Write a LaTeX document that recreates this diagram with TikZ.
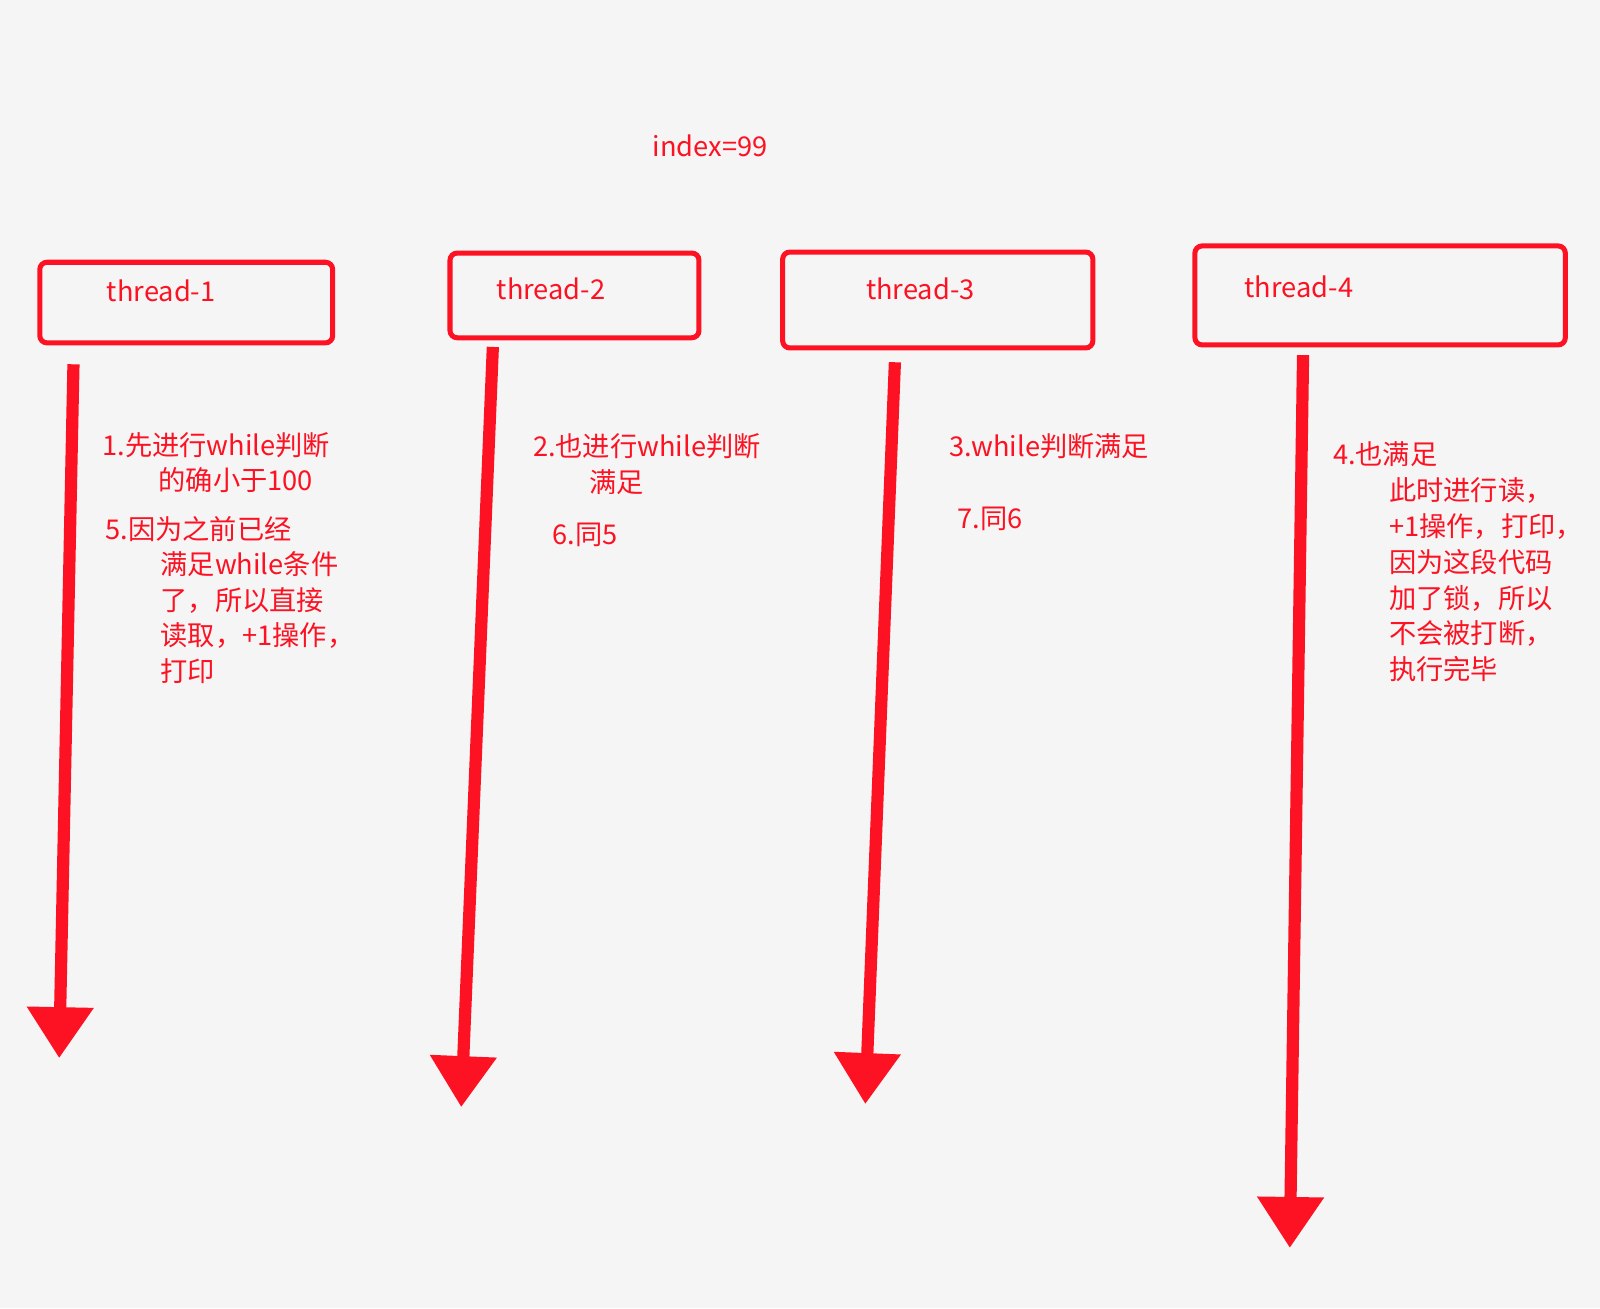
\documentclass[tikz,border=0pt]{standalone}
\usepackage{fontspec}
\setmainfont{Noto Sans CJK SC}
\usetikzlibrary{arrows.meta}
\definecolor{rd}{HTML}{FC1222}
\definecolor{bg}{HTML}{F5F5F5}
\begin{document}
\begin{tikzpicture}[x=0.02cm,y=-0.02cm,
  box/.style={draw=rd,line width=2.8pt,rounded corners=4pt},
  lbl/.style={text=rd,inner sep=0,anchor=west,font=\fontsize{15.2}{17}\selectfont},
  tl/.style={rd,line width=6.8pt,-{Triangle[length=1cm,width=1.25cm]}}]
\fill[bg] (0,0) rectangle (1568,1282);
\useasboundingbox (0,0) rectangle (1568,1282);
\node[lbl,anchor=center] (idx) at (696,143) {index=99};
\draw[box] (39,257) rectangle (326,336);
\draw[box] (441,248) rectangle (685,331);
\draw[box] (767,247) rectangle (1071,341);
\draw[box] (1171,241) rectangle (1534,338);
\node[lbl,anchor=center] (t1) at (158,285) {thread-1};
\node[lbl,anchor=center] (t2) at (540,283) {thread-2};
\node[lbl,anchor=center] (t3) at (902,283) {thread-3};
\node[lbl,anchor=center] (t4) at (1273,281) {thread-4};
\coordinate (a1s) at (72,357); \coordinate (a1e) at (58,1037);
\coordinate (a2s) at (483,340); \coordinate (a2e) at (452,1085);
\coordinate (a3s) at (877,355); \coordinate (a3e) at (848,1082);
\coordinate (a4s) at (1277,348); \coordinate (a4e) at (1264,1223);
\draw[tl] (a1s) -- (a1e);
\draw[tl] (a2s) -- (a2e);
\draw[tl] (a3s) -- (a3e);
\draw[tl] (a4s) -- (a4e);
\node[lbl] (n1a) at (100,436) {1.先进行while判断};
\node[lbl] (n1b) at (155,470) {的确小于100};
\node[lbl] (n5a) at (103,518) {5.因为之前已经};
\node[lbl] (n5b) at (157,553) {满足while条件};
\node[lbl] (n5c) at (157,588) {了，所以直接};
\node[lbl] (n5d) at (157,623) {读取，+1操作，};
\node[lbl] (n5e) at (157,658) {打印};
\node[lbl] (n2a) at (522,437) {2.也进行while判断};
\node[lbl] (n2b) at (577,472) {满足};
\node[lbl] (n6) at (541,524) {6.同5};
\node[lbl] (n3) at (930,437) {3.while判断满足};
\node[lbl] (n7) at (938,508) {7.同6};
\node[lbl] (n4a) at (1306,445) {4.也满足};
\node[lbl] (n4b) at (1361,481) {此时进行读，};
\node[lbl] (n4c) at (1361,516) {+1操作，打印，};
\node[lbl] (n4d) at (1361,551) {因为这段代码};
\node[lbl] (n4e) at (1361,586) {加了锁，所以};
\node[lbl] (n4f) at (1361,621) {不会被打断，};
\node[lbl] (n4g) at (1361,656) {执行完毕};
\end{tikzpicture}
\end{document}
